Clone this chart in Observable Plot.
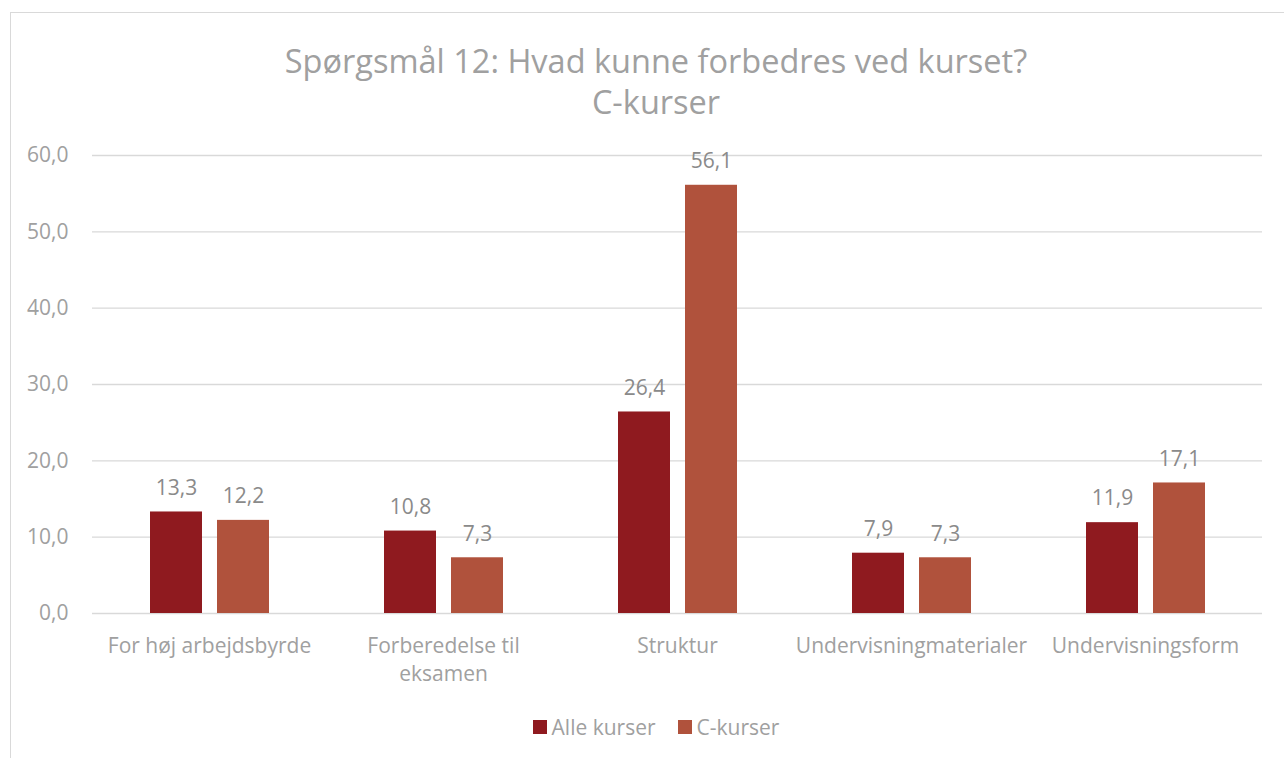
<!DOCTYPE html>
<html><head><meta charset="utf-8">
<script src="https://cdn.jsdelivr.net/npm/d3@7"></script>
<script src="https://cdn.jsdelivr.net/npm/@observablehq/plot@0.6"></script>
<style>
html,body{margin:0;padding:0;background:#fff;}
body{width:1284px;height:758px;overflow:hidden;position:relative;font-family:"Open Sans",Lato,sans-serif;}
#frame{position:absolute;left:10px;top:12px;width:1320px;height:820px;border:1px solid #d9d9d9;box-sizing:border-box;}
#title{position:absolute;left:0;width:1312px;top:40px;text-align:center;color:#a0a0a0;font-size:32.5px;line-height:41px;}
#chart{position:absolute;left:0;top:0;}
#legend{position:absolute;left:0;width:1312px;top:712px;text-align:center;color:#a0a0a0;font-size:21px;}
#legend span.item{display:inline-flex;align-items:center;margin:0 11px;}
#legend span.sw{display:inline-block;width:14px;height:14px;margin-right:5px;}
</style>
</head><body>
<div id="frame"></div>
<div id="title">Spørgsmål 12: Hvad kunne forbedres ved kurset?<br>C-kurser</div>
<div id="chart"></div>
<div id="legend"></div>
<script>
const categories = ["For høj arbejdsbyrde","Forberedelse til eksamen","Struktur","Undervisningmaterialer","Undervisningsform"];
const categoryLabels = ["For høj arbejdsbyrde","Forberedelse til\neksamen","Struktur","Undervisningmaterialer","Undervisningsform"];
const series = ["Alle kurser","C-kurser"];
const alleKurser = [13.3,10.8,26.4,7.9,11.9];
const cKurser = [12.2,7.3,56.1,7.3,17.1];
const yTicks = [0,10,20,30,40,50,60];
const colors = ["#8f1a1f","#b0523c"];

const fmt = d => d.toFixed(1).replace(".", ",");
const data = [];
categories.forEach((c,i) => {
  data.push({category:c, series:series[0], value:alleKurser[i]});
  data.push({category:c, series:series[1], value:cKurser[i]});
});
const labelOf = new Map(categories.map((c,i)=>[c,categoryLabels[i]]));

const chart = Plot.plot({
  width:1284, height:700,
  marginLeft:92, marginRight:22, marginTop:155, marginBottom:87,
  style:{fontFamily:"'Open Sans', Lato, sans-serif", background:"transparent"},
  fx:{domain:categories, padding:0, label:null},
  x:{domain:series, paddingInner:0.224, paddingOuter:0.858, axis:null},
  y:{domain:[0,60], label:null},
  color:{domain:series, range:colors},
  marks:[
    Plot.gridY(yTicks,{stroke:"#d9d9d9", strokeOpacity:1, strokeWidth:1.3}),
    Plot.axisY(yTicks,{tickSize:0, tickPadding:24, tickFormat:fmt, fill:"#a0a0a0", fontSize:21, label:null}),
    Plot.axisFx({anchor:"bottom", tickSize:0, tickPadding:20, tickFormat:d=>labelOf.get(d), fill:"#a0a0a0", fontSize:21, lineHeight:1.33, label:null}),
    Plot.barY(data,{fx:"category", x:"series", y:"value", fill:"series"}),
    Plot.text(data,{fx:"category", x:"series", y:"value", text:d=>fmt(d.value), dy:-24, fill:"#8a8a8a", fontSize:21})
  ]
});
document.getElementById("chart").appendChild(chart);

const legend = document.getElementById("legend");
series.forEach((s,i)=>{
  const item = document.createElement("span"); item.className="item";
  const sw = document.createElement("span"); sw.className="sw"; sw.style.background=colors[i];
  item.appendChild(sw); item.appendChild(document.createTextNode(s));
  legend.appendChild(item);
});
</script>
</body></html>
